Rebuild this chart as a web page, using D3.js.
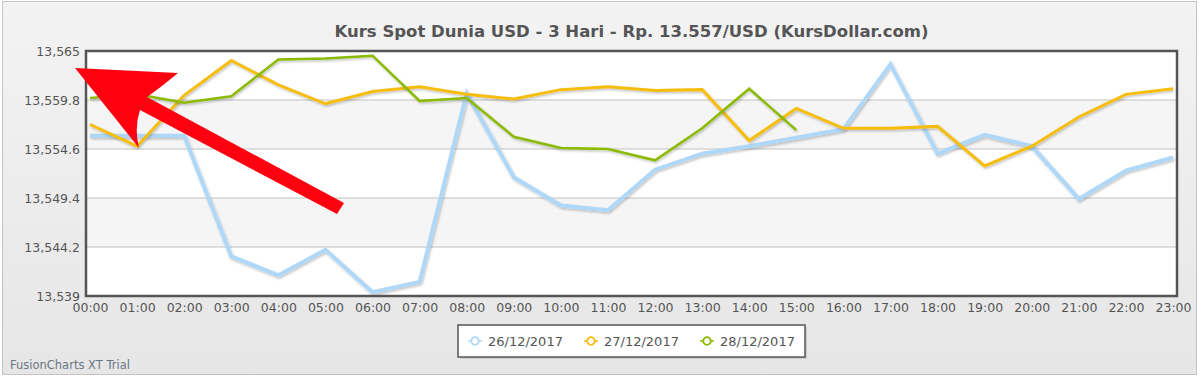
<!DOCTYPE html>
<html>
<head>
<meta charset="utf-8">
<script src="https://cdn.jsdelivr.net/npm/d3@7"></script>
<style>
  html, body { margin: 0; padding: 0; background: #fff; }
  svg { display: block; font-family: "DejaVu Sans", Verdana, sans-serif; }
</style>
</head>
<body>
<svg id="chart"></svg>
<script>
// Chart data
const hours = ["00:00","01:00","02:00","03:00","04:00","05:00","06:00","07:00","08:00","09:00","10:00","11:00",
               "12:00","13:00","14:00","15:00","16:00","17:00","18:00","19:00","20:00","21:00","22:00","23:00"];
const yTicks = [13539, 13544.2, 13549.4, 13554.6, 13559.8, 13565];

const day26 = [13556.0, 13556.0, 13556.0, 13543.2, 13541.2, 13543.9, 13539.4, 13540.5, 13560.5, 13551.6, 13548.6, 13548.1,
               13552.4, 13554.1, 13554.9, 13555.8, 13556.7, 13563.6, 13554.1, 13556.1, 13554.9, 13549.3, 13552.3, 13553.7];
const day27 = [13557.2, 13554.9, 13560.3, 13564.0, 13561.4, 13559.4, 13560.7, 13561.2, 13560.4, 13559.9, 13560.9, 13561.2,
               13560.8, 13560.9, 13555.5, 13558.9, 13556.8, 13556.8, 13557.0, 13552.8, 13554.9, 13558.0, 13560.4, 13561.0];
const day28 = [13560.0, 13560.4, 13559.5, 13560.2, 13564.1, 13564.2, 13564.5, 13559.7, 13560.0, 13555.9, 13554.7, 13554.6,
               13553.4, 13556.8, 13561.0, 13556.6];

const seriesNames = ["26/12/2017", "27/12/2017", "28/12/2017"];
const seriesColors = ["#afd8f8", "#f6bd0f", "#8bba00"];
const seriesWidths = [4, 3, 2.5];
const seriesData = [day26, day27, day28];

const W = 1204, H = 383;
const plot = { left: 86, right: 1177, top: 51, bottom: 296 };

const svg = d3.select("#chart").attr("width", W).attr("height", H);

const defs = svg.append("defs");
const bg = defs.append("linearGradient").attr("id", "bg").attr("x1", 0).attr("y1", 0).attr("x2", 0).attr("y2", 1);
bg.append("stop").attr("offset", "0%").attr("stop-color", "#f3f3f3");
bg.append("stop").attr("offset", "100%").attr("stop-color", "#e6e6e6");

const shadow = defs.append("filter").attr("id", "shadow")
    .attr("x", "-5%").attr("y", "-5%").attr("width", "110%").attr("height", "120%");
shadow.append("feDropShadow").attr("dx", 1).attr("dy", 1.5).attr("stdDeviation", 0.8)
    .attr("flood-color", "#000").attr("flood-opacity", 0.25);

// outer background
svg.append("rect")
    .attr("x", 2.5).attr("y", 1.5).attr("width", 1194).attr("height", 373)
    .attr("fill", "url(#bg)").attr("stroke", "#c4c4c4");

// scales
const x = d3.scalePoint().domain(hours).range([90, 1173]);
const y = d3.scaleLinear().domain([13539, 13565]).range([plot.bottom, plot.top]);

// plot background + alternate bands
svg.append("rect")
    .attr("x", plot.left).attr("y", plot.top)
    .attr("width", plot.right - plot.left).attr("height", plot.bottom - plot.top)
    .attr("fill", "#fff");

svg.append("g").selectAll("rect")
    .data(d3.pairs(yTicks).filter((d, i) => i % 2 === 1))
    .enter().append("rect")
    .attr("x", plot.left).attr("width", plot.right - plot.left)
    .attr("y", d => y(d[1])).attr("height", d => y(d[0]) - y(d[1]))
    .attr("fill", "#f5f5f5");

// horizontal grid lines
svg.append("g").selectAll("line")
    .data(yTicks.slice(1, -1))
    .enter().append("line")
    .attr("x1", plot.left).attr("x2", plot.right)
    .attr("y1", d => y(d)).attr("y2", d => y(d))
    .attr("stroke", "#c2c2c2").attr("stroke-width", 1);

// y axis labels
const yAxis = svg.append("g")
    .attr("transform", `translate(${plot.left},0)`)
    .call(d3.axisLeft(y).tickValues(yTicks).tickSize(0).tickPadding(6).tickFormat(d3.format(",")));
yAxis.select(".domain").remove();
yAxis.selectAll("text")
    .attr("fill", "#555").style("font-size", "12.5px")
    .style("font-family", "'DejaVu Sans', Verdana, sans-serif");

// x axis labels
const xAxis = svg.append("g")
    .attr("transform", `translate(0,${plot.bottom})`)
    .call(d3.axisBottom(x).tickSize(0).tickPadding(7));
xAxis.select(".domain").remove();
xAxis.selectAll("text")
    .attr("fill", "#555").style("font-size", "12.5px")
    .style("font-family", "'DejaVu Sans', Verdana, sans-serif");

// series lines
const line = d3.line()
    .x((d, i) => x(hours[i]))
    .y(d => y(d));

svg.append("g").selectAll("path")
    .data(seriesData)
    .enter().append("path")
    .attr("d", d => line(d))
    .attr("fill", "none")
    .attr("stroke", (d, i) => seriesColors[i])
    .attr("stroke-width", (d, i) => seriesWidths[i])
    .attr("stroke-linejoin", "miter")
    .attr("filter", "url(#shadow)");

// plot border
svg.append("rect")
    .attr("x", plot.left).attr("y", plot.top)
    .attr("width", plot.right - plot.left).attr("height", plot.bottom - plot.top)
    .attr("fill", "none").attr("stroke", "#555").attr("stroke-width", 2.5);

// title
svg.append("text")
    .attr("x", (plot.left + plot.right) / 2).attr("y", 37)
    .attr("text-anchor", "middle")
    .attr("fill", "#555").style("font-size", "16.5px").style("font-weight", "bold")
    .text("Kurs Spot Dunia USD - 3 Hari - Rp. 13.557/USD (KursDollar.com)");

// legend
const legend = svg.append("g");
legend.append("rect")
    .attr("x", 460).attr("y", 327).attr("width", 347).attr("height", 32)
    .attr("fill", "#bbb").attr("opacity", 0.6);
legend.append("rect")
    .attr("x", 458).attr("y", 325).attr("width", 347).attr("height", 32)
    .attr("fill", "#fff").attr("stroke", "#555").attr("stroke-width", 1.5);

const legendX = [475, 591, 707];
const item = legend.selectAll("g.item")
    .data(seriesNames)
    .enter().append("g")
    .attr("class", "item")
    .attr("transform", (d, i) => `translate(${legendX[i]},341)`);
item.append("line")
    .attr("x1", -7).attr("x2", 7)
    .attr("stroke", (d, i) => seriesColors[i]).attr("stroke-width", 1.5);
item.append("circle")
    .attr("r", 3.8).attr("fill", "#fff")
    .attr("stroke", (d, i) => seriesColors[i]).attr("stroke-width", 1.8);
item.append("text")
    .attr("x", 13).attr("dy", "0.35em")
    .attr("fill", "#555").style("font-size", "13px")
    .text(d => d);

// trial label
svg.append("text")
    .attr("x", 10).attr("y", 369)
    .attr("fill", "#6b7685").style("font-size", "11.5px")
    .text("FusionCharts XT Trial");

// red arrow annotation
svg.append("path")
    .attr("d", "M75,68 L178,73 Q160,88 147,97 L344,203 L337,214 L140,110 Q134,128 139,148 Z")
    .attr("fill", "#ff0010");
</script>
</body>
</html>
